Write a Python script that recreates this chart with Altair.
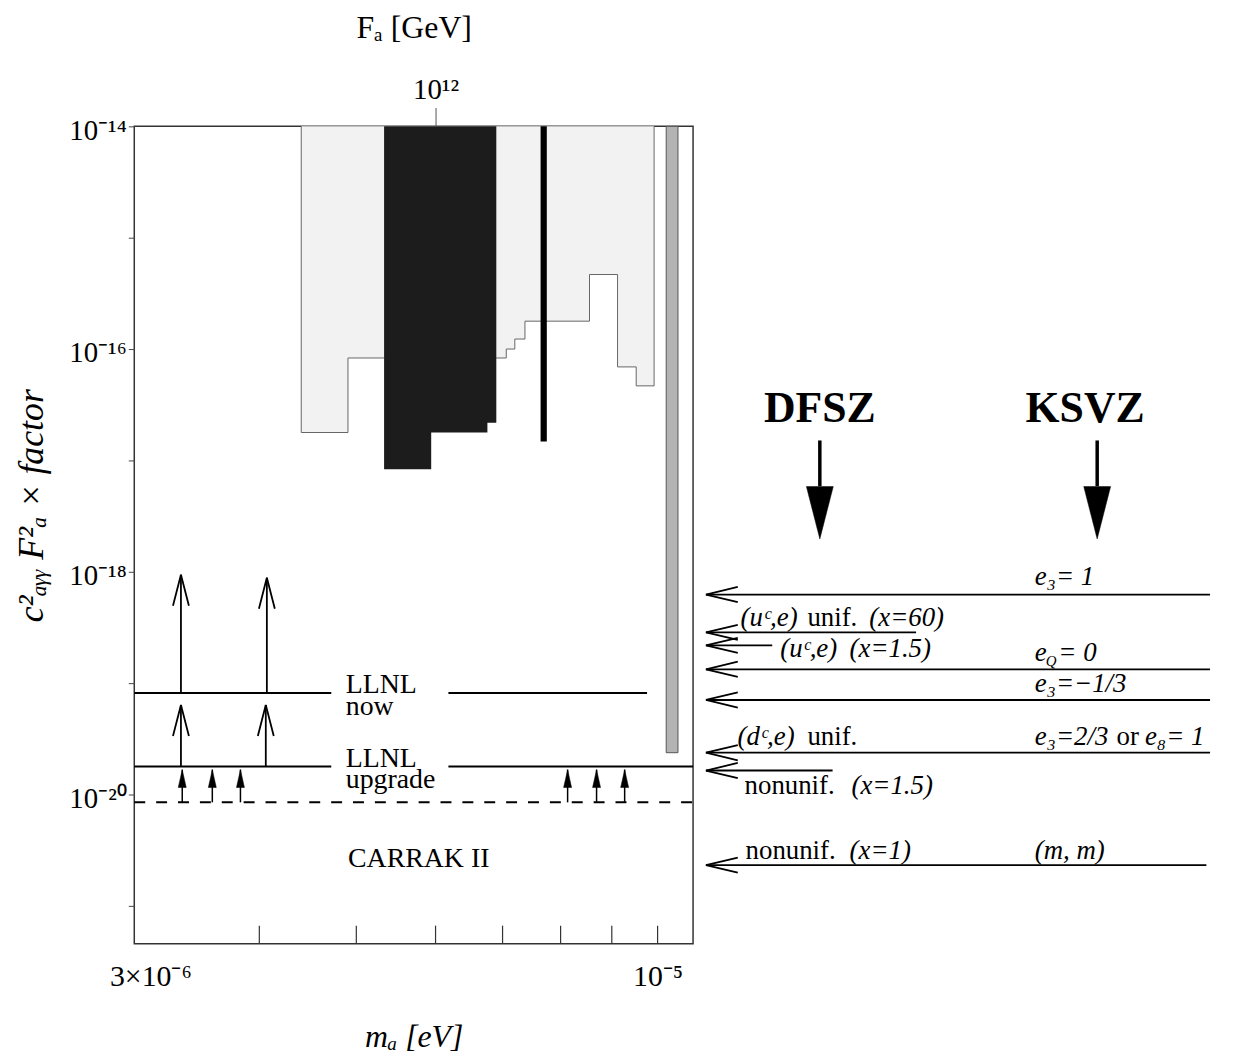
import altair as alt
import pandas as pd

FONT = "Liberation Serif"

# ---------------- values ----------------
ma_range = [3.0e-6, 1.085e-5]            # m_a [eV]
coup_range = [4.57e-22, 1.0e-14]         # c^2 F_a^2 x factor

y_ticks = [1e-14, 1e-15, 1e-16, 1e-17, 1e-18, 1e-19, 1e-20, 1e-21]
y_tick_text = {-14: "10⁻¹⁴", -16: "10⁻¹⁶", -18: "10⁻¹⁸", -20: "10⁻²⁰"}
x_ticks = [4e-6, 5e-6, 6e-6, 7e-6, 8e-6, 9e-6, 1e-5]
x_label_values = [3e-6, 1e-5]
x_label_text = ["3×10⁻⁶", "10⁻⁵"]
fa_ticks = [1e12]
fa_tick_text = ["10¹²"]
bottom_tick_top = 6.63e-22

# light grey excluded region (m_a step edges, lower edge of each step)
grey_edges = [4.405e-6, 4.905e-6, 5.33e-6, 6.90e-6, 7.06e-6, 7.20e-6, 7.37e-6,
              8.55e-6, 9.12e-6, 9.52e-6, 9.92e-6]
grey_levels = [1.78e-17, 8.31e-17, 8.31e-17, 8.31e-17, 1.00e-16, 1.23e-16,
               1.78e-16, 4.67e-16, 6.91e-17, 4.67e-17]

# black excluded region
black_edges = [5.33e-6, 5.94e-6, 6.76e-6, 6.90e-6]
black_levels = [8.31e-18, 1.78e-17, 2.18e-17]

# thin black strip
strip_ma = [7.64e-6, 7.75e-6]
strip_level = 1.48e-17

# grey bar
bar_ma = [1.020e-5, 1.048e-5]
bar_level = 2.37e-20

# experiments
llnl_now = 8.14e-20
llnl_upg = 1.78e-20
carrak = 8.49e-21
llnl_now_x1 = [3.0e-6, 6.18e-6]
llnl_now_x2 = [4.72e-6, 9.76e-6]
llnl_upg_x1 = [3.0e-6, 6.18e-6]
llnl_upg_x2 = [4.72e-6, 1.085e-5]

big_arrow_ma = [3.34e-6, 4.07e-6, 3.34e-6, 4.06e-6]
big_arrow_from = [llnl_now, llnl_now, llnl_upg, llnl_upg]
big_arrow_to = [9.4e-19, 8.84e-19, 6.36e-20, 6.36e-20]

small_arrow_ma = [3.35e-6, 3.59e-6, 3.83e-6, 8.13e-6, 8.69e-6, 9.27e-6]
small_arrow_to = 1.67e-20

left_lbl_text = ["LLNL\nnow", "LLNL\nupgrade", "CARRAK II"]
left_lbl_ma = [4.88e-6, 4.88e-6, 4.905e-6]
left_lbl_y = [8.14e-20, 1.78e-20, 2.23e-21]

# right panel: model predictions (panel position 0..1)
model_y = [6.24e-19, 2.85e-19, 2.18e-19, 1.33e-19, 7.05e-20, 2.37e-20, 1.64e-20, 2.32e-21]
model_end = [0.981, 0.421, 0.147, 0.981, 0.981, 0.981, 0.262, 0.974]
model_tip = 0.0208

rp_text = ["e₃= 1",
           "(uᶜ,e)", "unif.", "(x=60)",
           "(uᶜ,e)", "(x=1.5)",
           "e", "Q", "= 0",
           "e₃=−1/3",
           "(dᶜ,e)", "unif.", "e₃=2/3", "or", "e₈= 1",
           "nonunif.", "(x=1.5)",
           "nonunif.", "(x=1)", "(m, m)"]
rp_x = [0.647,
        0.0868, 0.214, 0.332,
        0.1623, 0.2943,
        0.647, 0.668, 0.692,
        0.647,
        0.0811, 0.214, 0.647, 0.803, 0.857,
        0.0943, 0.298,
        0.0962, 0.2943, 0.647]
rp_y = [7.66e-19,
        3.23e-19, 3.23e-19, 3.23e-19,
        1.71e-19, 1.71e-19,
        1.57e-19, 1.42e-19, 1.57e-19,
        8.32e-20,
        2.79e-20, 2.79e-20, 2.79e-20, 2.79e-20, 2.79e-20,
        1.0e-20, 1.0e-20,
        2.63e-21, 2.63e-21, 2.63e-21]
rp_italic = [1,
             1, 0, 1,
             1, 1,
             1, 1, 1,
             1,
             1, 0, 1, 0, 1,
             0, 1,
             0, 1, 1]
rp_size = [27, 27, 27, 27, 27, 27, 27, 15, 27, 27, 27, 27, 27, 27, 27, 27, 27, 27, 27, 27]

head_text = ["DFSZ", "KSVZ"]
head_x = [0.2377, 0.743]
head_y = 2.23e-17
head_arrow_x = [0.2377, 0.766]
head_arrow_from = 1.51e-17
head_arrow_mid = 5.86e-18
head_arrow_tip = 1.97e-18

# ---------------- chart ----------------
W_L, W_R, H = 562, 528, 822
top = coup_range[1]

xs = alt.Scale(type="log", domain=ma_range, nice=False)
ys = alt.Scale(type="log", domain=coup_range, nice=False)
rx = alt.Scale(domain=[0, 1], nice=False, zero=False)


def step_pts(edges, levels):
    return pd.DataFrame({"ma": edges, "lvl": levels + [levels[-1]], "top": top})


def step_outline(edges, levels):
    xx, yy = [edges[0]], [top]
    for i, lv in enumerate(levels):
        xx += [edges[i], edges[i + 1]]
        yy += [lv, lv]
    xx.append(edges[-1])
    yy.append(top)
    return pd.DataFrame({"ma": xx, "lvl": yy, "k": list(range(len(xx)))})


yexpr = " : ".join(
    f"round(log(datum.value)/LN10) == {e} ? '{t}'" for e, t in y_tick_text.items()
) + " : ''"
xexpr = " : ".join(
    f"abs(datum.value - {v}) < {v * 1e-3} ? '{t}'" for v, t in zip(x_label_values, x_label_text)
) + " : ''"
fa_ma = [6e-6 * 1e12 / f for f in fa_ticks]
faexpr = " : ".join(
    f"abs(datum.value - {v}) < {v * 1e-3} ? '{t}'" for v, t in zip(fa_ma, fa_tick_text)
) + " : ''"

y_axis = alt.Axis(orient="left", values=y_ticks, labelExpr=yexpr, tickSize=6, tickColor="#444",
                  domain=False, grid=False, labelFont=FONT, labelFontSize=29,
                  labelColor="black", labelPadding=2, labelOffset=4, labelOverlap=False,
                  labelBound=False,
                  title="c²ₐᵧᵧ F²ₐ × factor", titleFont=FONT, titleFontSize=36,
                  titleFontStyle="italic", titleFontWeight="normal", titleColor="black",
                  titlePadding=18, titleY=381)
xb_axis = alt.Axis(orient="bottom", values=x_label_values, labelExpr=xexpr, ticks=False,
                   domain=False, grid=False, labelFont=FONT, labelFontSize=30,
                   labelColor="black", labelPadding=18, labelFlush=True,
                   labelFlushOffset=25, labelOverlap=False,
                   title="mₐ [eV]", titleFont=FONT, titleFontSize=32,
                   titleFontStyle="italic", titleFontWeight="normal", titleColor="black",
                   titlePadding=30)
xt_axis = alt.Axis(orient="top", values=fa_ma, labelExpr=faexpr, tickSize=19,
                   tickColor="#555", domain=False, grid=False, labelFont=FONT,
                   labelFontSize=29, labelColor="black", labelPadding=3,
                   labelOverlap=False,
                   title="Fₐ [GeV]", titleFont=FONT, titleFontSize=32,
                   titleFontWeight="normal", titleColor="black", titlePadding=31)

X = lambda f, **k: alt.X(f, type="quantitative", scale=xs, axis=k.get("axis", None))
Y = lambda f, **k: alt.Y(f, type="quantitative", scale=ys, axis=k.get("axis", None))

grey_area = alt.Chart(step_pts(grey_edges, grey_levels)).mark_area(
    interpolate="step-after", color="#f2f2f2", opacity=1
).encode(x=X("ma", axis=xb_axis), y=Y("lvl", axis=y_axis), y2="top")

grey_line = alt.Chart(step_outline(grey_edges, grey_levels)).mark_line(
    color="#666", strokeWidth=1
).encode(x=X("ma"), y=Y("lvl"), order="k:Q")

black_area = alt.Chart(step_pts(black_edges, black_levels)).mark_area(
    interpolate="step-after", color="#1c1c1c", opacity=1
).encode(x=X("ma"), y=Y("lvl"), y2="top")

strip = alt.Chart(pd.DataFrame({"a": [strip_ma[0]], "b": [strip_ma[1]],
                                "lvl": [strip_level], "top": [top]})).mark_rect(
    color="black"
).encode(x=X("a"), x2="b", y=Y("lvl"), y2="top")

bar = alt.Chart(pd.DataFrame({"a": [bar_ma[0]], "b": [bar_ma[1]],
                              "lvl": [bar_level], "top": [top]})).mark_rect(
    fill="#b3b3b3", stroke="#555", strokeWidth=1
).encode(x=X("a"), x2="b", y=Y("lvl"), y2="top")

llnl_df = pd.DataFrame({
    "a": llnl_now_x1 + llnl_upg_x1,
    "b": llnl_now_x2 + llnl_upg_x2,
    "lvl": [llnl_now] * len(llnl_now_x1) + [llnl_upg] * len(llnl_upg_x1),
})
llnl = alt.Chart(llnl_df).mark_rule(color="black", strokeWidth=2).encode(
    x=X("a"), x2="b", y=Y("lvl"))

carrak_line = alt.Chart(pd.DataFrame({"a": [ma_range[0]], "b": [ma_range[1]],
                                      "lvl": [carrak]})).mark_rule(
    color="black", strokeWidth=2, strokeDash=[11, 11]
).encode(x=X("a"), x2="b", y=Y("lvl"))

big_df = pd.DataFrame({"ma": big_arrow_ma, "y1": big_arrow_from, "y2": big_arrow_to})
big_shaft = alt.Chart(big_df).mark_rule(color="black", strokeWidth=1.8).encode(
    x=X("ma"), y=Y("y1"), y2="y2")
big_head = alt.Chart(big_df).mark_point(
    shape="M-1,3.9L0,0L1,3.9", size=256, filled=False, stroke="black",
    strokeWidth=1.8, opacity=1
).encode(x=X("ma"), y=Y("y2"))

small_df = pd.DataFrame({"ma": small_arrow_ma, "y1": carrak, "y2": small_arrow_to})
small_shaft = alt.Chart(small_df).mark_rule(color="black", strokeWidth=1.5).encode(
    x=X("ma"), y=Y("y1"), y2="y2")
small_head = alt.Chart(small_df).mark_point(
    shape="M-1,4.5L0,0L1,4.5Z", size=64, filled=True, fill="black", stroke="black",
    strokeWidth=0.5, opacity=1
).encode(x=X("ma"), y=Y("y2"))

left_lbl = alt.Chart(pd.DataFrame({"ma": left_lbl_ma, "y": left_lbl_y,
                                   "t": left_lbl_text})).mark_text(
    font=FONT, fontSize=28, align="left", baseline="alphabetic", color="black",
    lineBreak="\n", lineHeight=22
).encode(x=X("ma"), y=Y("y"), text="t")

xticks_df = pd.DataFrame({"ma": x_ticks, "y1": coup_range[0], "y2": bottom_tick_top})
xtick_rules = alt.Chart(xticks_df).mark_rule(color="#333", strokeWidth=1.2).encode(
    x=X("ma"), y=Y("y1"), y2="y2")

top_axis = alt.Chart(pd.DataFrame({"ma": fa_ma})).mark_point(opacity=0).encode(
    x=X("ma", axis=xt_axis))

left = alt.layer(
    grey_area, grey_line, black_area, strip, bar, llnl, carrak_line,
    big_shaft, big_head, small_shaft, small_head, left_lbl, xtick_rules, top_axis
).resolve_axis(x="independent", y="independent").properties(
    width=W_L, height=H, view=alt.ViewBackground(stroke="#333", strokeWidth=1.5))

# ---------------- right panel ----------------
RX = lambda f: alt.X(f, type="quantitative", scale=rx, axis=None)

model_df = pd.DataFrame({"tip": model_tip, "end": model_end, "y": model_y})
model_rules = alt.Chart(model_df).mark_rule(color="black", strokeWidth=1.8).encode(
    x=RX("tip"), x2="end", y=Y("y"))
model_heads = alt.Chart(model_df).mark_point(
    shape="M4,-0.95L0,0L4,0.95", size=256, filled=False, stroke="black",
    strokeWidth=1.8, opacity=1
).encode(x=RX("tip"), y=Y("y"))

rp_df = pd.DataFrame({"x": rp_x, "y": rp_y, "t": rp_text, "it": rp_italic, "fs": rp_size})
rp_it = alt.Chart(rp_df[rp_df.it == 1]).mark_text(
    font=FONT, fontStyle="italic", align="left", baseline="alphabetic", color="black"
).encode(x=RX("x"), y=Y("y"), text="t", size=alt.Size("fs:Q", scale=None, legend=None))
rp_up = alt.Chart(rp_df[rp_df.it == 0]).mark_text(
    font=FONT, align="left", baseline="alphabetic", color="black"
).encode(x=RX("x"), y=Y("y"), text="t", size=alt.Size("fs:Q", scale=None, legend=None))

head_df = pd.DataFrame({"x": head_x, "t": head_text, "y": head_y})
heads = alt.Chart(head_df).mark_text(
    font=FONT, fontSize=44, fontWeight="bold", align="center", baseline="alphabetic",
    color="black"
).encode(x=RX("x"), y=Y("y"), text="t")

harrow_df = pd.DataFrame({"x": head_arrow_x, "y1": head_arrow_from,
                          "y2": head_arrow_mid, "tip": head_arrow_tip})
harrow_shaft = alt.Chart(harrow_df).mark_rule(color="black", strokeWidth=3.5).encode(
    x=RX("x"), y=Y("y1"), y2="y2")
harrow_head = alt.Chart(harrow_df).mark_point(
    shape="M-1,-3.9L1,-3.9L0,0Z", size=729, filled=True, fill="black",
    stroke="black", strokeWidth=0.5, opacity=1
).encode(x=RX("x"), y=Y("tip"))

right = alt.layer(
    model_rules, model_heads, rp_it, rp_up, heads, harrow_shaft, harrow_head
).properties(width=W_R, height=H, view=alt.ViewBackground(strokeOpacity=0))

chart = alt.hconcat(left, right, spacing=0).resolve_scale(
    x="independent", y="independent"
).resolve_axis(x="independent", y="independent").properties(
    padding={"left": 5, "top": 0, "right": 5, "bottom": 5}
).configure_view(
    stroke="#333", strokeWidth=1.5
).configure(background="white")

chart.save("out.html", embed_options={"renderer": "svg", "actions": False})
